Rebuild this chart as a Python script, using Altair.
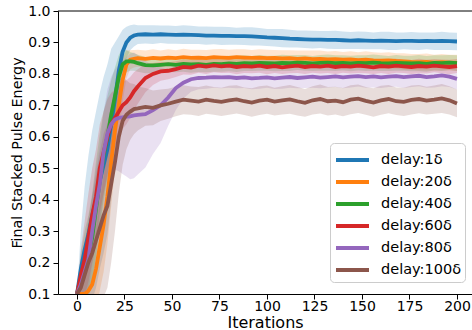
import altair as alt
import pandas as pd

# Iteration grid the curves are sampled on
iterations = [0, 2, 4, 6, 8, 10, 12, 14, 16, 18, 20, 22, 24, 26, 28, 30] + list(range(32, 201, 4))

labels = ["delay:1δ", "delay:20δ", "delay:40δ", "delay:60δ", "delay:80δ", "delay:100δ"]
colors = ["#1f77b4", "#ff7f0e", "#2ca02c", "#d62728", "#9467bd", "#8c564b"]
y_ticks = [0.1, 0.2, 0.3, 0.4, 0.5, 0.6, 0.7, 0.8, 0.9, 1.0]
x_ticks = [0, 25, 50, 75, 100, 125, 150, 175, 200]

# Mean final stacked pulse energy per delay
mean_1 = [0.10, 0.18, 0.24, 0.29, 0.35, 0.40, 0.46, 0.51, 0.56, 0.64, 0.72, 0.81, 0.87, 0.90, 0.915, 0.922,
          0.925, 0.926, 0.925, 0.926, 0.925, 0.924, 0.925, 0.924, 0.923, 0.922, 0.922, 0.921, 0.921, 0.920,
          0.920, 0.919, 0.918, 0.916, 0.915, 0.914, 0.912, 0.911, 0.910, 0.909, 0.909, 0.908, 0.908, 0.907,
          0.906, 0.907, 0.906, 0.905, 0.906, 0.905, 0.904, 0.905, 0.905, 0.904, 0.905, 0.904, 0.905, 0.904, 0.903]
mean_20 = [0.10, 0.10, 0.10, 0.11, 0.13, 0.18, 0.25, 0.32, 0.41, 0.52, 0.62, 0.70, 0.78, 0.83, 0.845, 0.848,
           0.850, 0.848, 0.851, 0.849, 0.852, 0.850, 0.853, 0.851, 0.852, 0.850, 0.853, 0.852, 0.851, 0.853,
           0.852, 0.851, 0.852, 0.850, 0.851, 0.849, 0.850, 0.848, 0.849, 0.847, 0.848, 0.846, 0.847, 0.845,
           0.846, 0.844, 0.845, 0.843, 0.842, 0.843, 0.841, 0.840, 0.838, 0.837, 0.838, 0.836, 0.837, 0.836, 0.835]
mean_40 = [0.10, 0.15, 0.19, 0.22, 0.28, 0.37, 0.46, 0.54, 0.60, 0.67, 0.73, 0.79, 0.83, 0.84, 0.84, 0.838,
           0.834, 0.828, 0.827, 0.829, 0.831, 0.829, 0.832, 0.830, 0.831, 0.829, 0.832, 0.831, 0.833, 0.832,
           0.834, 0.833, 0.835, 0.834, 0.833, 0.835, 0.834, 0.836, 0.835, 0.833, 0.835, 0.836, 0.834, 0.835,
           0.833, 0.835, 0.834, 0.836, 0.834, 0.833, 0.835, 0.834, 0.833, 0.834, 0.832, 0.835, 0.834, 0.836, 0.834]
mean_60 = [0.10, 0.16, 0.21, 0.28, 0.35, 0.41, 0.50, 0.55, 0.60, 0.64, 0.66, 0.68, 0.70, 0.71, 0.725, 0.745,
           0.760, 0.787, 0.800, 0.808, 0.810, 0.815, 0.822, 0.820, 0.826, 0.823, 0.827, 0.824, 0.826, 0.822,
           0.825, 0.823, 0.826, 0.822, 0.825, 0.821, 0.824, 0.826, 0.822, 0.825, 0.823, 0.826, 0.822, 0.825,
           0.823, 0.826, 0.824, 0.821, 0.825, 0.823, 0.826, 0.824, 0.822, 0.825, 0.823, 0.826, 0.824, 0.822, 0.825]
mean_80 = [0.10, 0.13, 0.17, 0.21, 0.30, 0.38, 0.45, 0.55, 0.61, 0.64, 0.655, 0.66, 0.662, 0.664, 0.665, 0.668,
           0.670, 0.672, 0.685, 0.700, 0.725, 0.755, 0.772, 0.783, 0.787, 0.788, 0.790, 0.789, 0.790, 0.787,
           0.789, 0.786, 0.787, 0.789, 0.786, 0.788, 0.790, 0.787, 0.789, 0.791, 0.788, 0.790, 0.792, 0.789,
           0.791, 0.793, 0.790, 0.792, 0.789, 0.791, 0.793, 0.790, 0.792, 0.794, 0.790, 0.792, 0.795, 0.791, 0.784]
mean_100 = [0.10, 0.12, 0.16, 0.20, 0.23, 0.27, 0.31, 0.35, 0.38, 0.45, 0.52, 0.60, 0.65, 0.67, 0.68, 0.688,
            0.690, 0.695, 0.692, 0.700, 0.705, 0.712, 0.718, 0.715, 0.712, 0.718, 0.714, 0.711, 0.716, 0.719,
            0.713, 0.709, 0.715, 0.718, 0.712, 0.716, 0.719, 0.713, 0.708, 0.716, 0.720, 0.713, 0.715, 0.710,
            0.718, 0.721, 0.714, 0.709, 0.716, 0.720, 0.713, 0.711, 0.717, 0.720, 0.715, 0.718, 0.722, 0.716, 0.706]

# Standard deviation across runs (shaded band = mean ± std)
std_1 = [0.0, 0.12, 0.20, 0.25, 0.27, 0.28, 0.28, 0.28, 0.27, 0.24, 0.18, 0.11, 0.07, 0.05, 0.04, 0.035,
         0.030, 0.029, 0.030, 0.028, 0.029, 0.028, 0.030, 0.029, 0.028, 0.029, 0.028, 0.029, 0.028, 0.027,
         0.028, 0.029, 0.028, 0.027, 0.028, 0.029, 0.028, 0.027, 0.028, 0.028, 0.027, 0.028, 0.029, 0.028,
         0.027, 0.028, 0.028, 0.027, 0.028, 0.029, 0.028, 0.027, 0.028, 0.028, 0.027, 0.028, 0.029, 0.028, 0.028]
std_20 = [0.0, 0.02, 0.05, 0.08, 0.10, 0.12, 0.14, 0.15, 0.15, 0.14, 0.12, 0.10, 0.07, 0.045, 0.03, 0.028,
          0.027, 0.026, 0.027, 0.025, 0.026, 0.025, 0.027, 0.026, 0.025, 0.026, 0.025, 0.027, 0.026, 0.025,
          0.026, 0.025, 0.026, 0.027, 0.025, 0.026, 0.025, 0.026, 0.025, 0.027, 0.026, 0.025, 0.026, 0.025,
          0.026, 0.025, 0.027, 0.026, 0.025, 0.026, 0.025, 0.026, 0.025, 0.026, 0.027, 0.025, 0.026, 0.025, 0.026]
std_40 = [0.0, 0.08, 0.11, 0.13, 0.14, 0.15, 0.15, 0.14, 0.13, 0.11, 0.09, 0.07, 0.05, 0.035, 0.03, 0.028,
          0.027, 0.026, 0.025, 0.026, 0.025, 0.024, 0.025, 0.026, 0.025, 0.024, 0.025, 0.024, 0.025, 0.026,
          0.025, 0.024, 0.025, 0.024, 0.025, 0.026, 0.025, 0.024, 0.025, 0.024, 0.025, 0.026, 0.025, 0.024,
          0.025, 0.024, 0.025, 0.026, 0.025, 0.024, 0.025, 0.024, 0.025, 0.026, 0.025, 0.024, 0.025, 0.024, 0.025]
std_60 = [0.0, 0.08, 0.12, 0.14, 0.15, 0.15, 0.14, 0.13, 0.12, 0.10, 0.09, 0.08, 0.075, 0.07, 0.065, 0.06,
          0.055, 0.045, 0.035, 0.03, 0.027, 0.025, 0.024, 0.023, 0.022, 0.023, 0.022, 0.021, 0.022, 0.023,
          0.022, 0.021, 0.022, 0.023, 0.022, 0.021, 0.022, 0.023, 0.022, 0.021, 0.022, 0.023, 0.022, 0.021,
          0.022, 0.023, 0.022, 0.021, 0.022, 0.023, 0.022, 0.021, 0.022, 0.023, 0.022, 0.021, 0.022, 0.023, 0.022]
std_80 = [0.0, 0.05, 0.08, 0.10, 0.11, 0.12, 0.12, 0.13, 0.14, 0.15, 0.16, 0.17, 0.18, 0.19, 0.20, 0.20,
          0.19, 0.17, 0.14, 0.12, 0.09, 0.07, 0.05, 0.04, 0.036, 0.035, 0.034, 0.035, 0.034, 0.033,
          0.034, 0.035, 0.034, 0.033, 0.034, 0.035, 0.034, 0.033, 0.034, 0.035, 0.034, 0.033, 0.034, 0.035,
          0.034, 0.033, 0.034, 0.035, 0.034, 0.033, 0.034, 0.035, 0.034, 0.033, 0.034, 0.035, 0.034, 0.033, 0.034]
std_100 = [0.0, 0.06, 0.10, 0.14, 0.18, 0.21, 0.24, 0.26, 0.26, 0.25, 0.22, 0.18, 0.14, 0.11, 0.09, 0.08,
           0.07, 0.06, 0.055, 0.05, 0.048, 0.047, 0.046, 0.045, 0.046, 0.045, 0.044, 0.045, 0.046, 0.045,
           0.044, 0.045, 0.046, 0.045, 0.044, 0.045, 0.046, 0.045, 0.044, 0.045, 0.046, 0.045, 0.044, 0.045,
           0.046, 0.045, 0.044, 0.045, 0.046, 0.045, 0.044, 0.045, 0.046, 0.045, 0.044, 0.045, 0.046, 0.045, 0.044]

means = [mean_1, mean_20, mean_40, mean_60, mean_80, mean_100]
stds = [std_1, std_20, std_40, std_60, std_80, std_100]

rows = []
for k, (lab, m, s) in enumerate(zip(labels, means, stds)):
    for it, mv, sv in zip(iterations, m, s):
        rows.append({"iter": it, "delay": lab, "order": k, "mean": mv,
                     "lo": max(mv - sv, 0.05), "hi": mv + sv})
df = pd.DataFrame(rows)

FONT = "DejaVu Sans"
x_scale = alt.Scale(domain=[-10, 207.9], nice=False, zero=False)
y_scale = alt.Scale(domain=[0.1, 1.0], nice=False, zero=False)
color_scale = alt.Scale(domain=labels, range=colors)

# Legend with a long, flat line glyph: custom path spans -1..2 in symbol units
legend = alt.Legend(title=None, orient="none", legendX=272, legendY=132,
                    symbolType="M-1,0H2", symbolSize=484, symbolStrokeWidth=4,
                    labelFontSize=14.5, labelFont=FONT, labelColor="#000",
                    labelOffset=21, rowPadding=1, padding=4,
                    strokeColor="#cccccc", cornerRadius=4, fillColor="white",
                    symbolOpacity=1, labelLimit=200)
color = alt.Color("delay:N", scale=color_scale, sort=labels, legend=legend)

x_axis = alt.Axis(title="Iterations", values=x_ticks,
                  grid=False, labelFontSize=14, titleFontSize=16, labelFont=FONT,
                  titleFont=FONT, titleFontWeight="normal", tickSize=5,
                  labelColor="#000", titleColor="#000", domainColor="#000",
                  tickColor="#000", labelPadding=0, titlePadding=1,
                  labelOverlap=False)
y_axis = alt.Axis(title="Final Stacked Pulse Energy", values=y_ticks,
                  format=".1f", grid=False, labelFontSize=14, titleFontSize=14.3, labelFont=FONT,
                  titleFont=FONT, titleFontWeight="normal", tickSize=5, labelColor="#000",
                  titleColor="#000", domainColor="#000", tickColor="#000", labelPadding=3,
                  titlePadding=3, labelOverlap=False)

base = alt.Chart(df)

bands = base.mark_area(opacity=0.2, clip=True).encode(
    x=alt.X("iter:Q", scale=x_scale, axis=x_axis),
    y=alt.Y("lo:Q", scale=y_scale, axis=y_axis),
    y2="hi:Q",
    color=color,
    detail="delay:N",
)

lines = base.mark_line(strokeWidth=3.8, clip=True).encode(
    x=alt.X("iter:Q", scale=x_scale, axis=x_axis),
    y=alt.Y("mean:Q", scale=y_scale, axis=y_axis),
    color=color,
)

top_spine = alt.Chart(pd.DataFrame({"y": [1.0]})).mark_rule(color="#000", strokeWidth=1).encode(
    y=alt.Y("y:Q", scale=y_scale, axis=y_axis), x=alt.value(0), x2=alt.value(414)
)

chart = alt.layer(bands, lines, top_spine).properties(
    width=414, height=283,
    padding={"left": 58, "top": 11, "right": 0, "bottom": 36},
    autosize=alt.AutoSizeParams(type="none"),
).configure_view(stroke=None)

chart.save("out.html", embed_options={"renderer": "svg", "actions": False})
